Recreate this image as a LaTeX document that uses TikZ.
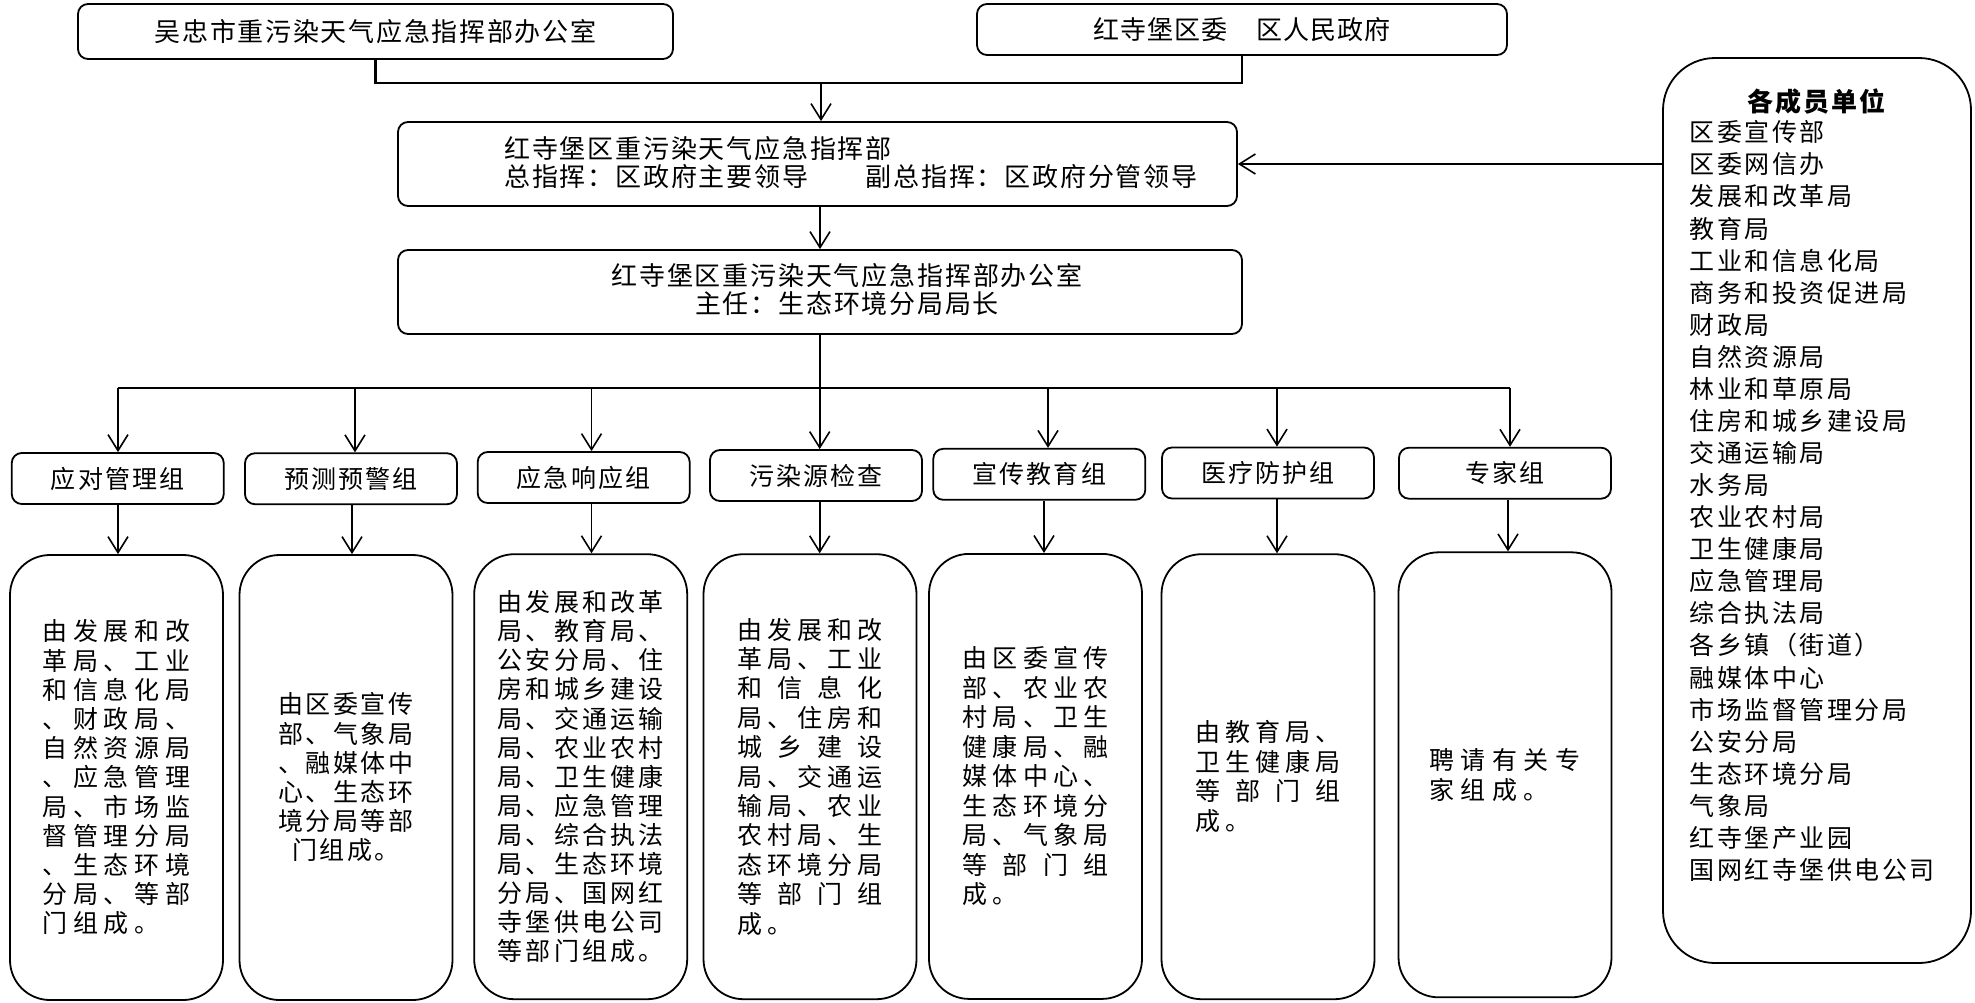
\documentclass[tikz,border=0pt]{standalone}
\usepackage{fontspec}
\newfontfamily\zh{Noto Sans CJK SC}
\usetikzlibrary{arrows.meta}
\newdimen\zp
\newdimen\zf
\def\zsA#1{\ifx\relax#1\else\makebox[\zp][c]{#1}\expandafter\zsA\fi}
\newcommand\zs[1]{\zsA#1\relax}
\def\zjB#1{\ifx\relax#1\else\hfil#1\expandafter\zjB\fi}
\def\zjA#1{#1\zjB}
\newcommand\zj[2]{\makebox[\dimexpr\zp*#1\relax][s]{\hskip\dimexpr(\zp-\zf)/2\relax\zjA#2\relax\hskip\dimexpr(\zp-\zf)/2\relax}}
\newcommand\zset[3]{\zp=#1\relax\zf=#2\relax\zh\fontsize{#2}{#3}\selectfont}
\tikzset{
  sbox/.style={draw, line width=0.9pt, rounded corners=5pt, inner sep=0pt},
  gbox/.style={sbox, minimum width=106pt, minimum height=25.5pt, font=\zset{13.6pt}{12.5pt}{15pt}},
  dbox/.style={draw, line width=0.9pt, rounded corners=20pt, inner sep=0pt, minimum width=106.5pt, minimum height=222.5pt},
  arr/.style={line width=0.8pt, -{Straight Barb[length=8pt,width=10pt]}},
  bar/.style={line width=1.35pt},
}
\begin{document}
\begin{tikzpicture}[x=0.5pt,y=-0.5pt]
\useasboundingbox (0,0) rectangle (1975,1002);
% top boxes
\node[sbox, minimum width=297.5pt, minimum height=27.5pt, font=\zset{13.85pt}{13pt}{14pt}] (b1) at (375.5,31.5) {\zs{吴忠市重污染天气应急指挥部办公室}};
\node[sbox, minimum width=265pt, minimum height=25.5pt, font=\zset{13.6pt}{13pt}{14pt}] (b2) at (1242,29.5) {\zs{红寺堡区委　区人民政府}};
\node[sbox, minimum width=419.5pt, minimum height=42pt] (cmd) at (817.5,164) {};
\node[anchor=west, inner sep=0pt, align=left, font=\zset{13.9pt}{13pt}{14pt}] (cmdt) at (503,163) {\zs{红寺堡区重污染天气应急指挥部}\\\zs{总指挥：区政府主要领导　　副总指挥：区政府分管领导}};
\node[sbox, minimum width=422pt, minimum height=42pt] (off) at (820,292) {};
\node[inner sep=0pt, align=center, font=\zset{13.9pt}{13pt}{14pt}] (offt) at (847,290) {\zs{红寺堡区重污染天气应急指挥部办公室}\\\zs{主任：生态环境分局局长}};
% members box
\node[draw, line width=0.9pt, rounded corners=26pt, minimum width=154pt, minimum height=452.5pt] (mem) at (1817,510.5) {};
\node[inner sep=0pt, font=\zset{14pt}{13pt}{14pt}\bfseries] (memt) at (1816.5,102) {\zs{各成员单位}};
\foreach \t [count=\i from 0] in {区委宣传部,区委网信办,发展和改革局,教育局,工业和信息化局,商务和投资促进局,财政局,自然资源局,林业和草原局,住房和城乡建设局,交通运输局,水务局,农业农村局,卫生健康局,应急管理局,综合执法局,各乡镇（街道）,融媒体中心,市场监督管理分局,公安分局,生态环境分局,气象局,红寺堡产业园,国网红寺堡供电公司}{
  \node[anchor=west, inner sep=0pt, font=\zset{13.75pt}{12.5pt}{14pt}] (m\i) at (1688,{132.3+32.07*\i}) {\expandafter\zs\expandafter{\t}};
}
% groups
\node[gbox] (g1) at (117.75,478.5) {\zs{应对管理组}};
\node[gbox] (g2) at (351,478.75) {\zs{预测预警组}};
\node[gbox] (g3) at (583.7,477.5) {\zs{应急响应组}};
\node[gbox] (g4) at (816,475.5) {\zs{污染源检查}};
\node[gbox] (g5) at (1039.3,474.3) {\zs{宣传教育组}};
\node[gbox] (g6) at (1268,473) {\zs{医疗防护组}};
\node[gbox] (g7) at (1505,473.2) {\zs{专家组}};
% detail boxes
\node[dbox, align=left, font=\zset{15.4pt}{12.5pt}{14.6pt}] (d1) at (116.5,777.5) {\zs{由发展和改}\\\zs{革局、工业}\\\zs{和信息化局}\\\zs{、财政局、}\\\zs{自然资源局}\\\zs{、应急管理}\\\zs{局、市场监}\\\zs{督管理分局}\\\zs{、生态环境}\\\zs{分局、等部}\\\zs{门组成。}};
\node[dbox, align=center, font=\zset{13.75pt}{12.5pt}{14.6pt}] (d2) at (346,777.5) {\zs{由区委宣传}\\\zs{部、气象局}\\\zs{、融媒体中}\\\zs{心、生态环}\\\zs{境分局等部}\\\zs{门组成。}};
\node[dbox, align=left, font=\zset{14.1pt}{12.5pt}{14.53pt}] (d3) at (580.7,776.7) {\zs{由发展和改革}\\\zs{局、教育局、}\\\zs{公安分局、住}\\\zs{房和城乡建设}\\\zs{局、交通运输}\\\zs{局、农业农村}\\\zs{局、卫生健康}\\\zs{局、应急管理}\\\zs{局、综合执法}\\\zs{局、生态环境}\\\zs{分局、国网红}\\\zs{寺堡供电公司}\\\zs{等部门组成。}};
\node[dbox, align=left, font=\zset{15.1pt}{12.5pt}{14.7pt}] (d4) at (810,776.7) {\zs{由发展和改}\\\zs{革局、工业}\\\zj{5}{和信息化}\\\zs{局、住房和}\\\zj{5}{城乡建设}\\\zs{局、交通运}\\\zs{输局、农业}\\\zs{农村局、生}\\\zs{态环境分局}\\\zj{5}{等部门组}\\\zs{成。}};
\node[dbox, align=left, font=\zset{15.1pt}{12.5pt}{14.75pt}] (d5) at (1035.5,776.4) {\zs{由区委宣传}\\\zs{部、农业农}\\\zs{村局、卫生}\\\zs{健康局、融}\\\zs{媒体中心、}\\\zs{生态环境分}\\\zs{局、气象局}\\\zj{5}{等部门组}\\\zs{成。}};
\node[dbox, align=left, font=\zset{15pt}{12.5pt}{14.75pt}] (d6) at (1268,776.7) {\zs{由教育局、}\\\zs{卫生健康局}\\\zj{5}{等部门组}\\\zs{成。}};
\node[dbox, align=left, font=\zset{15.75pt}{12.5pt}{15pt}] (d7) at (1505,774.8) {\zs{聘请有关专}\\\zs{家组成。}};
% connectors top
\coordinate (jt) at (821,83);
\draw[bar] (b1.south) |- (jt) -| (b2.south);
\draw[arr] (jt) -- (jt |- cmd.north);
\draw[arr] (off.north |- cmd.south) -- (off.north);
\draw[arr] (mem.west |- cmd.east) -- (cmd.east);
% bar to groups
\coordinate (t1) at (118,388);
\coordinate (t2) at (355,388);
\coordinate (t3) at (591.5,388);
\coordinate (t4) at (819.7,388);
\coordinate (t5) at (1048,388);
\coordinate (t6) at (1277,388);
\coordinate (t7) at (1510,388);
\draw[line width=0.9pt] (off.south) -- (off.south |- t1);
\draw[bar] (t1) -- (t7);
\coordinate (u1) at (118,530);
\coordinate (u2) at (352,530);
\coordinate (u3) at (591.5,530);
\coordinate (u4) at (819.7,530);
\coordinate (u5) at (1044,530);
\coordinate (u6) at (1277,530);
\coordinate (u7) at (1508,530);
\foreach \k in {1,...,7}{
  \draw[arr] (t\k) -- (t\k |- g\k.north);
  \draw[arr] (g\k.south -| u\k) -- (u\k |- d\k.north);
}
\end{tikzpicture}
\end{document}
